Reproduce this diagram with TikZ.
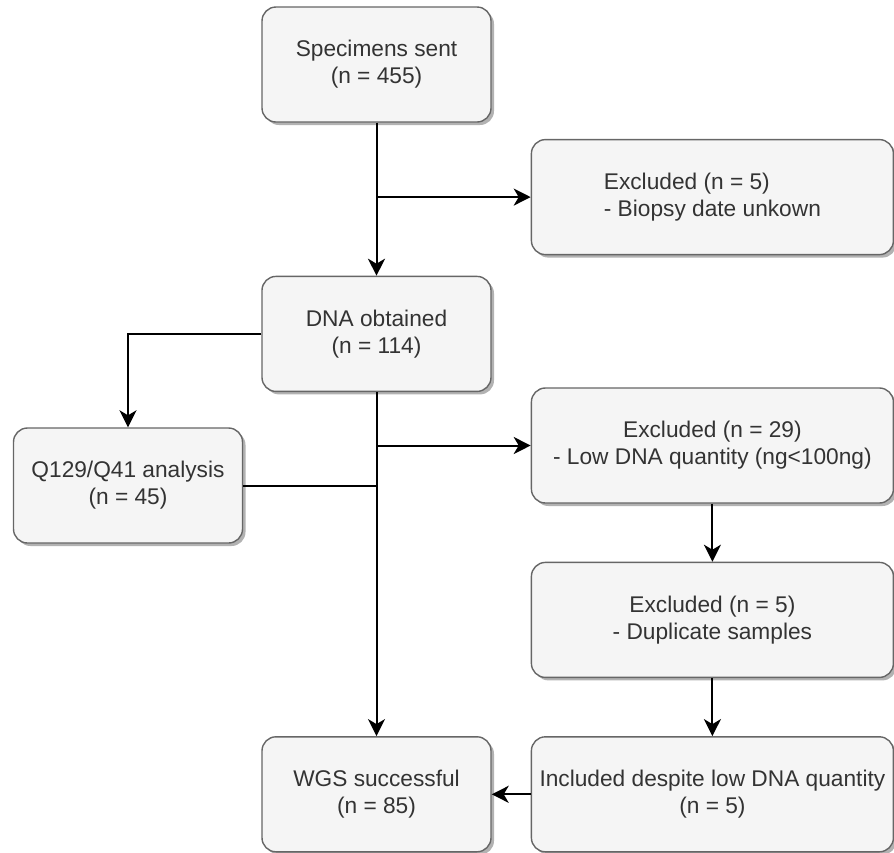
\documentclass[tikz,border=0pt]{standalone}
\usepackage{fontspec}
\setmainfont{Liberation Sans}
\usetikzlibrary{arrows.meta, positioning, shadows}
\definecolor{boxfill}{HTML}{F5F5F5}
\definecolor{boxline}{HTML}{666666}
\definecolor{boxtext}{HTML}{333333}
\tikzset{
  box/.style = {rectangle, rounded corners=7pt, draw=boxline, line width=0.7pt, fill=boxfill, text=boxtext, align=center, minimum width=114.5pt, minimum height=57.5pt, inner sep=1pt, font=\fontsize{11.35}{13.6}\selectfont, drop shadow={shadow xshift=1.5pt, shadow yshift=-1.5pt, fill=black!30, opacity=1}},
  widebox/.style = {box, minimum width=181pt},
  arrow/.style = {line width=1pt, -{Stealth[length=8.5pt, width=8.5pt, inset=2.5pt]}},
  link/.style = {line width=1pt}
}
\begin{document}
\begin{tikzpicture}[x=0.5pt, y=-0.5pt]
    \useasboundingbox (0,0) rectangle (894,852);

    % Main column
    \node[box] (spec) at (376.5,64.5) {Specimens sent\\(n = 455)};
    \node[box, below=76.5pt of spec] (dna) {DNA obtained\\(n = 114)};
    \node[box, below=172pt of dna] (wgs) {WGS successful\\(n = 85)};

    % Right column
    \node[widebox, right=19.5pt of wgs] (incl) {Included despite low DNA quantity\\(n = 5)};
    \node[widebox, above=29pt of incl] (dup) {Excluded (n = 5)\\- Duplicate samples};
    \node[widebox, above=29pt of dup] (lowdna) {Excluded (n = 29)\\- Low DNA quantity (ng\textless100ng)};
    \node[widebox, align=left, above=66pt of lowdna] (nodate) {Excluded (n = 5)\\- Biopsy date unkown};

    % Left side
    \node[box] (qanalysis) at (128,485.5) {Q129/Q41 analysis\\(n = 45)};

    % Arrows main column
    \draw[arrow] (spec) -- (dna);
    \draw[arrow] (spec.south |- nodate.west) -- (nodate.west);
    \draw[arrow] (dna) -- (wgs);
    \draw[arrow] (dna.south |- lowdna.west) -- (lowdna.west);

    % Q129/Q41 branch
    \draw[arrow] (dna.west) -| (qanalysis.north);
    \draw[link] (qanalysis.east) -- (qanalysis.east -| dna.south);

    % Arrows right column
    \draw[arrow] (lowdna) -- (dup);
    \draw[arrow] (dup) -- (incl);
    \draw[arrow] (incl) -- (wgs);

\end{tikzpicture}
\end{document}
